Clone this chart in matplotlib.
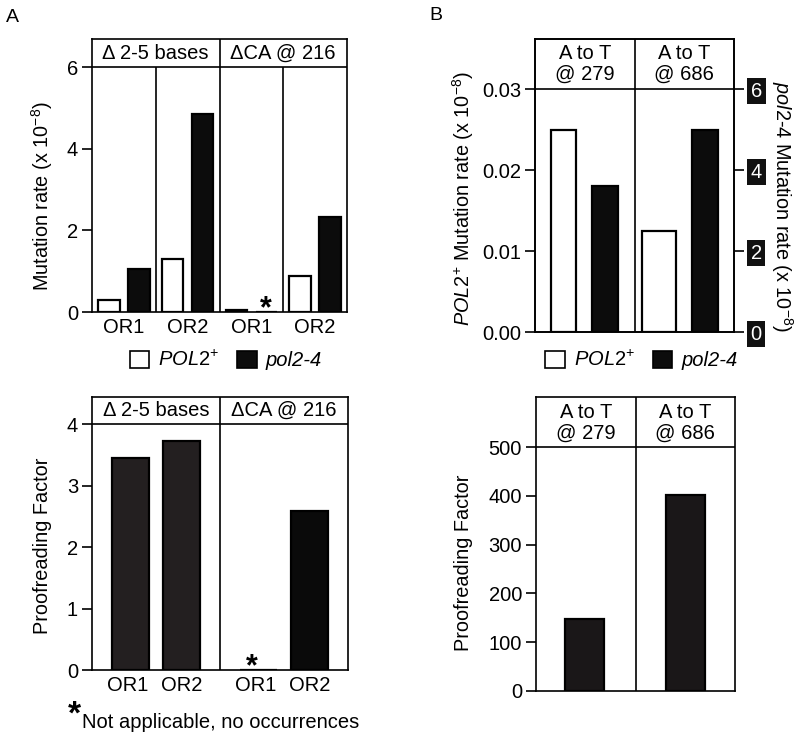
import matplotlib
matplotlib.use("Agg")
import matplotlib.pyplot as plt
from matplotlib.patches import Patch

plt.rcParams['font.family'] = ['Liberation Sans', 'DejaVu Sans']
plt.rcParams['mathtext.fontset'] = 'custom'
plt.rcParams['mathtext.rm'] = 'Liberation Sans'
plt.rcParams['mathtext.it'] = 'Liberation Sans:italic'
plt.rcParams['font.size'] = 14.5
plt.rcParams['axes.linewidth'] = 1.2

# ---- data ----
# panel A, mutation rates (x 10^-8)
a_groups = ["\u0394 2-5 bases", "\u0394CA @ 216"]
a_sites = ["OR1", "OR2", "OR1", "OR2"]
a_pol2 = [0.29, 1.29, 0.05, 0.88]
a_pol24 = [1.06, 4.84, 0.0, 2.33]
a_ticks = [0, 2, 4, 6]
# panel A, proofreading factor
a_pf = [3.44, 3.73, 0.0, 2.59]
a_pf_ticks = [0, 1, 2, 3, 4]
# panel B
b_groups = ["A to T\n@ 279", "A to T\n@ 686"]
b_pol2 = [0.025, 0.0125]       # left axis
b_pol24 = [3.6, 5.0]           # right axis
b_left_ticks = [0.00, 0.01, 0.02, 0.03]
b_right_ticks = [0, 2, 4, 6]
b_pf = [148, 402]
b_pf_ticks = [0, 100, 200, 300, 400, 500]

W, H = 800, 738
LABEL = 14.3
fig = plt.figure(figsize=(8, 7.38), dpi=100)


def add_ax(l, r, t, b):
    return fig.add_axes([l / W, 1 - b / H, (r - l) / W, (b - t) / H])


def style(ax):
    ax.tick_params(axis='y', length=7, width=1.2, pad=3)
    ax.tick_params(axis='x', length=0, pad=4)


def legend(ax, x, y):
    leg = ax.legend([Patch(facecolor='white', edgecolor='black', lw=1.2),
                     Patch(facecolor='#0c0c0c', edgecolor='black', lw=1.2)],
                    [italic_pol2, "pol2-4"], loc='upper center',
                    bbox_to_anchor=(x, y), ncol=2, frameon=False,
                    handlelength=0.95, handleheight=0.95, handletextpad=0.45,
                    columnspacing=0.9, borderaxespad=0, fontsize=14.5)
    leg.get_texts()[1].set_fontstyle('italic')


edge = dict(edgecolor='black', linewidth=1.6)
italic_pol2 = r"$\it{POL2}^{+}$"
star = dict(ha='center', va='baseline', fontsize=22, fontweight='bold')

# ---------- A top ----------
ax = add_ax(92, 347, 39, 312)
top = 6
ax.set_ylim(0, top + 0.686)
ax.set_xlim(0, 4)
xs = [i + 0.5 for i in range(4)]
ax.bar([x - 0.235 for x in xs], a_pol2, width=0.34, color='white', **edge)
ax.bar([x + 0.235 for x in xs], a_pol24, width=0.34, color='#0c0c0c', **edge)
ax.axhline(top, color='black', lw=1.2)
ax.vlines([1, 3], 0, top, color='black', lw=1.2)
ax.axvline(2, color='black', lw=1.2)
for i, g in enumerate(a_groups):
    ax.text(2 * i + 1, top + 0.34, g, ha='center', va='center')
ax.text(2.5 + 0.22, -0.12, "*", **star)
ax.set_yticks(a_ticks)
ax.set_xticks(xs)
ax.set_xticklabels(a_sites)
ax.set_ylabel(r"Mutation rate (x 10$^{-8}$)", fontsize=LABEL, va='center')
ax.yaxis.set_label_coords(-0.196, 0.425)
style(ax)
legend(ax, 0.525, -0.11)

# ---------- A bottom ----------
ax = add_ax(92, 348, 397, 670)
top = 4
ax.set_ylim(0, top + 0.44)
ax.set_xlim(0, 4)
xs = [0.6, 1.4, 2.6, 3.4]
ax.bar(xs[:2], a_pf[:2], width=0.58, color='#231f20', **edge)
ax.bar(xs[2:], a_pf[2:], width=0.58, color='#0a0a0a', **edge)
ax.axhline(top, color='black', lw=1.2)
ax.axvline(2, color='black', lw=1.2)
for i, g in enumerate(a_groups):
    ax.text(2 * i + 1, top + 0.22, g, ha='center', va='center')
ax.text(2.5, -0.09, "*", **star)
ax.set_yticks(a_pf_ticks)
ax.set_xticks([0.55, 1.4, 2.55, 3.4])
ax.set_xticklabels(a_sites)
ax.set_ylabel("Proofreading Factor", fontsize=LABEL, va='center')
ax.yaxis.set_label_coords(-0.195, 0.454)
style(ax)

fig.text(74 / W, 1 - 724 / H, "*", fontsize=24, fontweight='bold',
         va='baseline', ha='center')
fig.text(82 / W, 1 - 722 / H, "Not applicable, no occurrences", va='center',
         ha='left', fontsize=14.5)

# ---------- B top ----------
ax = add_ax(535, 734, 39, 332)
top = 0.03
ax.set_ylim(0, top * 1.2058)
ax.set_xlim(0, 2)
ax.bar([0.29, 1.248], b_pol2, width=[0.25, 0.34], color='white', **edge)
ax2 = ax.twinx()
ax2.set_ylim(0, 6 * 1.2058)
ax2.bar([0.70, 1.705], b_pol24, width=0.26, color='#0c0c0c', **edge)
ax.axhline(top, color='black', lw=1.2)
ax.axvline(1, color='black', lw=1.2)
for i, g in enumerate(b_groups):
    ax.text(i + 0.5, top * 1.103, g, ha='center', va='center',
            linespacing=1.1)
ax.set_yticks(b_left_ticks)
ax.set_yticklabels([f"{v:.2f}" for v in b_left_ticks])
ax.set_xticks([])
ax.set_ylabel(italic_pol2 + r" Mutation rate (x 10$^{-8}$)", fontsize=LABEL,
              va='center')
ax.yaxis.set_label_coords(-0.362, 0.456)
style(ax)
ax2.set_yticks(b_right_ticks)
ax2.tick_params(axis='y', length=7, width=1.2, pad=5, labelcolor='white')
for lab in ax2.get_yticklabels():
    lab.set_bbox(dict(facecolor='#111111', edgecolor='none', pad=2.6))
ax2.set_ylabel(r"$\it{pol2}$-$\it{4}$ Mutation rate (x 10$^{-8}$)",
               rotation=-90, va='center', fontsize=LABEL)
ax2.yaxis.set_label_coords(1.241, 0.427)
for s in ax2.spines.values():
    s.set_linewidth(1.2)
legend(ax, 0.535, -0.035)

# ---------- B bottom ----------
ax = add_ax(536, 735, 397, 691)
top = 500
ax.set_ylim(0, top * 1.205)
ax.set_xlim(0, 2)
ax.bar([0.49, 1.5], b_pf, width=0.39, color='#1a1718', **edge)
ax.axhline(top, color='black', lw=1.2)
ax.axvline(1, color='black', lw=1.2)
for i, g in enumerate(b_groups):
    ax.text(i + 0.5, top * 1.1, g, ha='center', va='center',
            linespacing=1.1)
ax.set_yticks(b_pf_ticks)
ax.set_xticks([])
ax.set_ylabel("Proofreading Factor", fontsize=LABEL, va='center')
ax.yaxis.set_label_coords(-0.364, 0.435)
style(ax)

fig.text(12 / W, 1 - 17 / H, "A", fontsize=14, va='center', ha='center')
fig.text(436 / W, 1 - 15 / H, "B", fontsize=14, va='center', ha='center')

fig.savefig("out.png", dpi=100)
